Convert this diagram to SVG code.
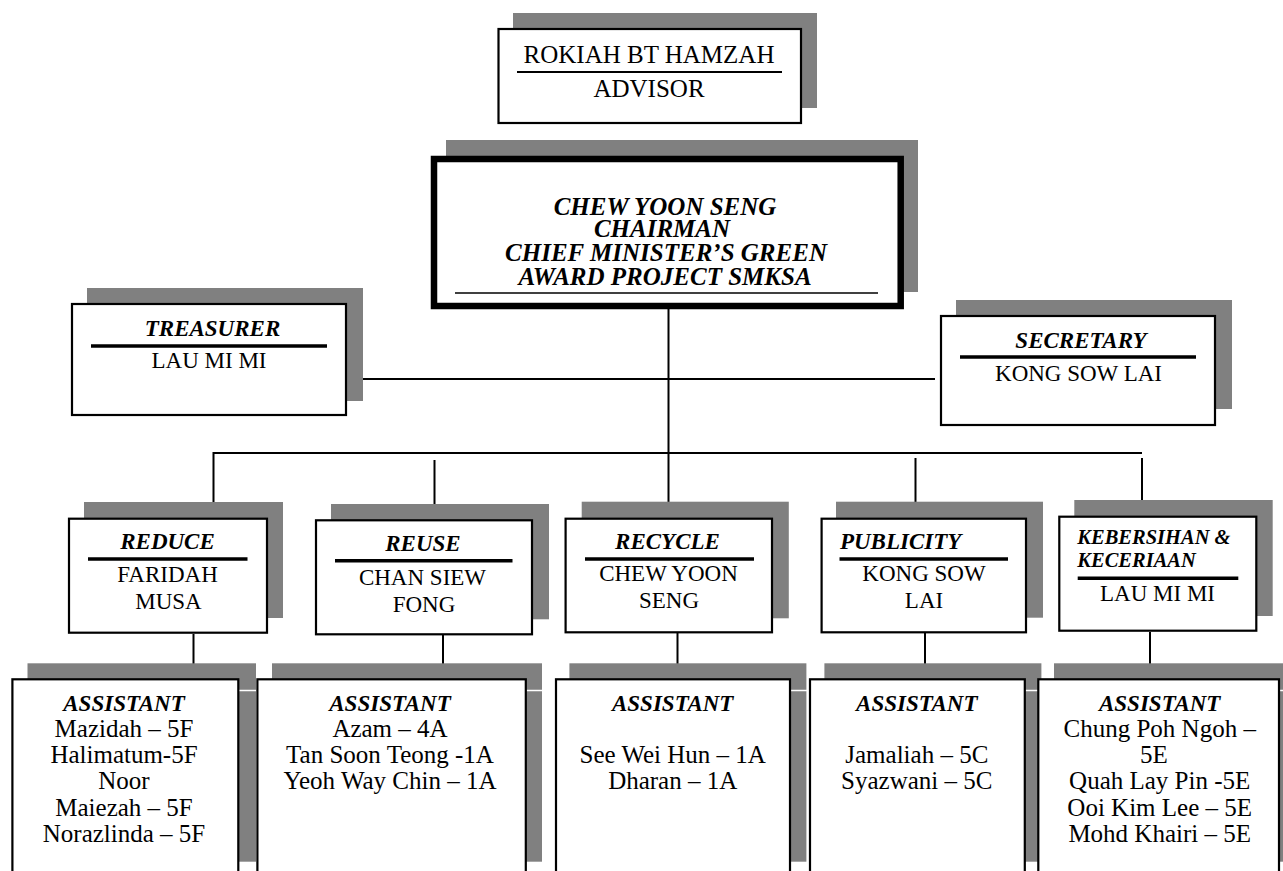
<svg xmlns="http://www.w3.org/2000/svg" width="1283" height="871" viewBox="0 0 1283 871">
<style>
.sh{fill:#808080;stroke:none}
.bx{fill:#fff;stroke:#000;stroke-width:2.2}
.thick{fill:#fff;stroke:#000;stroke-width:6.5}
.t{font-family:"Liberation Serif","Times New Roman",serif;fill:#000;text-anchor:middle}
.bi{font-weight:bold;font-style:italic}
.s25{font-size:25px}
.s23{font-size:23px}
.ul{stroke:#000;stroke-width:3.5}
.c{stroke:#000;stroke-width:2;fill:none}
</style>
<rect width="1283" height="871" fill="#fff"/>

<g id="connectors">
<line class="c" x1="668.5" y1="309" x2="668.5" y2="518"/>
<line class="c" x1="352" y1="379" x2="935" y2="379"/>
<polyline class="c" points="213.5,513 213.5,453 1142,453"/>
<line class="c" x1="434.5" y1="460" x2="434.5" y2="520"/>
<line class="c" x1="915.5" y1="458" x2="915.5" y2="518"/>
<line class="c" x1="1142" y1="458" x2="1142" y2="516"/>
<line class="c" x1="193.5" y1="634" x2="193.5" y2="676"/>
<line class="c" x1="443" y1="635" x2="443" y2="678"/>
<line class="c" x1="677.5" y1="633" x2="677.5" y2="679"/>
<line class="c" x1="925" y1="633" x2="925" y2="679"/>
<line class="c" x1="1150" y1="632" x2="1150" y2="679"/>
</g>

<g id="advisor">
<rect class="sh" x="513" y="13" width="304" height="95"/>
<rect class="bx" x="498.5" y="29" width="302.5" height="94"/>
<text class="t s25" x="649" y="63">ROKIAH BT HAMZAH</text>
<line x1="517" y1="72" x2="782" y2="72" stroke="#000" stroke-width="2.2"/>
<text class="t s25" x="649" y="97">ADVISOR</text>
</g>

<g id="chairman">
<rect class="sh" x="446" y="140" width="472" height="152"/>
<rect class="thick" x="434" y="159" width="466.7" height="147"/>
<text class="t s25 bi"><tspan x="665" y="214.5">CHEW YOON SENG</tspan><tspan x="662" y="237">CHAIRMAN</tspan><tspan x="666" y="260.5">CHIEF MINISTER’S GREEN</tspan><tspan x="665" y="284.5">AWARD PROJECT SMKSA</tspan></text>
<line x1="455" y1="293" x2="878" y2="293" stroke="#000" stroke-width="1.3"/>
</g>

<g id="treasurer">
<rect class="sh" x="87" y="288" width="276" height="113"/>
<rect class="bx" x="72" y="304" width="274" height="111"/>
<text class="t s23 bi" x="212.5" y="336">TREASURER</text>
<line class="ul" x1="91" y1="346" x2="327" y2="346"/>
<text class="t s23" x="209" y="368">LAU MI MI</text>
</g>

<g id="secretary">
<rect class="sh" x="956" y="300" width="276" height="109"/>
<rect class="bx" x="941" y="316" width="274" height="109"/>
<text class="t s23 bi" x="1081" y="348">SECRETARY</text>
<line class="ul" x1="960" y1="357" x2="1196" y2="357"/>
<text class="t s23" x="1078.5" y="381">KONG SOW LAI</text>
</g>

<g id="reduce">
<rect class="sh" x="84" y="502" width="199" height="116"/>
<rect class="bx" x="69" y="518.7" width="198" height="114"/>
<text class="t s23 bi" x="167.5" y="549.3">REDUCE</text>
<line class="ul" x1="88" y1="559" x2="247.5" y2="559"/>
<text class="t s23" x="167.5" y="581.7">FARIDAH</text>
<text class="t s23" x="168.5" y="609.3">MUSA</text>
</g>

<g id="reuse">
<rect class="sh" x="331" y="504" width="218" height="115.3"/>
<rect class="bx" x="316" y="520.3" width="216" height="114"/>
<text class="t s23 bi" x="423" y="551">REUSE</text>
<line class="ul" x1="335" y1="560.7" x2="512.5" y2="560.7"/>
<text class="t s23" x="422.5" y="585">CHAN SIEW</text>
<text class="t s23" x="424" y="611.7">FONG</text>
</g>

<g id="recycle">
<rect class="sh" x="581.7" y="501.7" width="207.1" height="116.6"/>
<rect class="bx" x="565.6" y="518.7" width="206.4" height="113.6"/>
<text class="t s23 bi" x="667.5" y="549.3">RECYCLE</text>
<line class="ul" x1="585" y1="559" x2="754" y2="559"/>
<text class="t s23" x="668.5" y="581">CHEW YOON</text>
<text class="t s23" x="669" y="608.3">SENG</text>
</g>

<g id="publicity">
<rect class="sh" x="836" y="501.7" width="207" height="116"/>
<rect class="bx" x="821.6" y="518.7" width="204.4" height="113.6"/>
<text class="t s23 bi" x="900.6" y="549.3">PUBLICITY</text>
<line class="ul" x1="839.5" y1="559" x2="1008" y2="559"/>
<text class="t s23" x="924" y="581">KONG SOW</text>
<text class="t s23" x="924" y="608">LAI</text>
</g>

<g id="kebersihan">
<rect class="sh" x="1074.3" y="500" width="198.4" height="116"/>
<rect class="bx" x="1059.3" y="516.7" width="197" height="114"/>
<text class="t bi" style="font-size:20.5px;text-anchor:start" x="1077.3" y="544">KEBERSIHAN &amp;</text>
<text class="t bi" style="font-size:20.5px;text-anchor:start" x="1077.3" y="567.3">KECERIAAN</text>
<line class="ul" x1="1077.7" y1="578.3" x2="1238.3" y2="578.3"/>
<text class="t s23" x="1157.5" y="600.7">LAU MI MI</text>
</g>

<g id="assistant-shadows">
<rect class="sh" x="27.5" y="663.3" width="228.5" height="198.4"/>
<rect class="sh" x="272" y="663.3" width="270" height="198.4"/>
<rect class="sh" x="569.4" y="663.3" width="237" height="198.4"/>
<rect class="sh" x="824.4" y="663.3" width="217" height="198.4"/>
<rect class="sh" x="1054" y="663.3" width="240" height="198.4"/>
<line x1="0" y1="690.5" x2="1283" y2="690.5" stroke="#fff" stroke-width="1.5"/>
</g>

<g id="assistant-reduce">
<rect class="bx" x="12.4" y="679.3" width="225.9" height="230"/>
<text class="t s23 bi" x="124" y="710.7">ASSISTANT</text>
<text class="t s25" x="124" y="736.7">Mazidah – 5F</text>
<text class="t s25" x="124" y="763">Halimatum-5F</text>
<text class="t s25" x="124" y="789.3">Noor</text>
<text class="t s25" x="124" y="815.6">Maiezah – 5F</text>
<text class="t s25" x="124" y="841.9">Norazlinda – 5F</text>
</g>

<g id="assistant-reuse">
<rect class="bx" x="257.4" y="679.3" width="268.4" height="230"/>
<text class="t s23 bi" x="390" y="710.7">ASSISTANT</text>
<text class="t s25" x="390" y="736.7">Azam – 4A</text>
<text class="t s25" x="390" y="763">Tan Soon Teong -1A</text>
<text class="t s25" x="390" y="789.3">Yeoh Way Chin – 1A</text>
</g>

<g id="assistant-recycle">
<rect class="bx" x="556" y="679.3" width="234" height="230"/>
<text class="t s23 bi" x="672.7" y="710.7">ASSISTANT</text>
<text class="t s25" x="672.7" y="763">See Wei Hun – 1A</text>
<text class="t s25" x="672.7" y="789.3">Dharan – 1A</text>
</g>

<g id="assistant-publicity">
<rect class="bx" x="810" y="679.3" width="214.8" height="230"/>
<text class="t s23 bi" x="916.8" y="710.7">ASSISTANT</text>
<text class="t s25" x="916.8" y="763">Jamaliah – 5C</text>
<text class="t s25" x="916.8" y="789.3">Syazwani – 5C</text>
</g>

<g id="assistant-kebersihan">
<rect class="bx" x="1038.3" y="679.3" width="240.7" height="230"/>
<text class="t s23 bi" x="1159.7" y="710.7">ASSISTANT</text>
<text class="t s25" x="1159.7" y="736.7">Chung Poh Ngoh –</text>
<text class="t s25" x="1154" y="763">5E</text>
<text class="t s25" x="1159.7" y="789.3">Quah Lay Pin -5E</text>
<text class="t s25" x="1159.7" y="815.6">Ooi Kim Lee – 5E</text>
<text class="t s25" x="1159.7" y="841.9">Mohd Khairi – 5E</text>
</g>
</svg>
